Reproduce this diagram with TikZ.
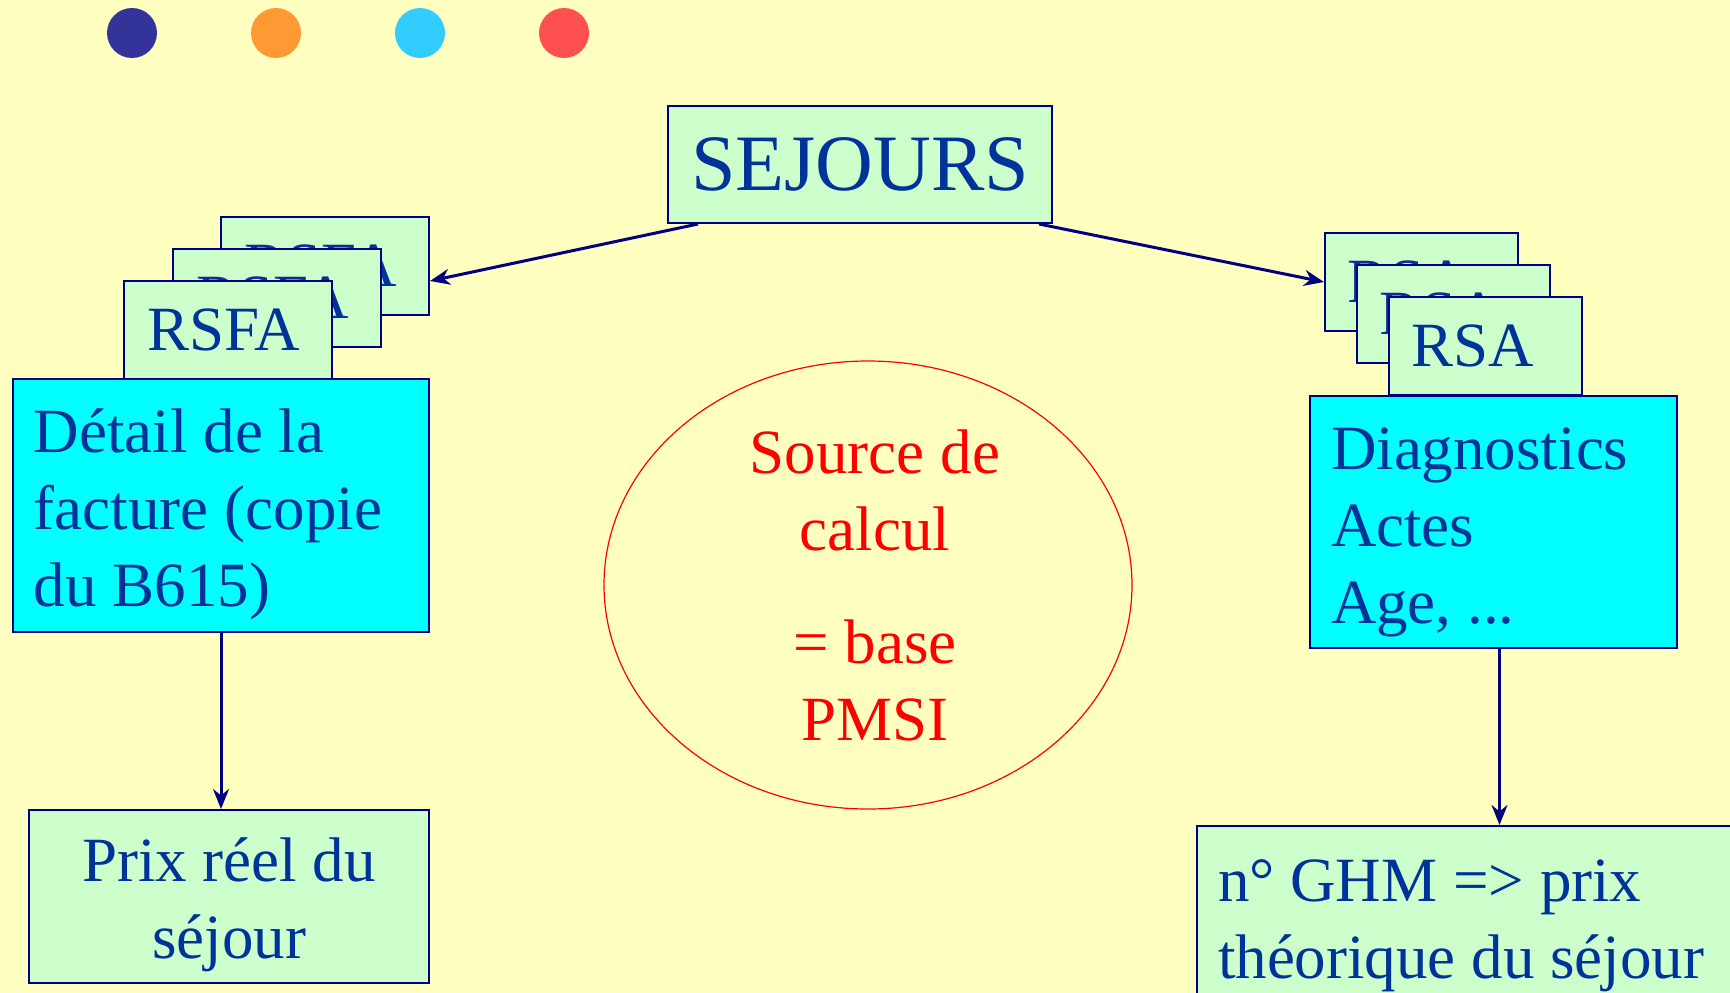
\documentclass[tikz,border=0pt]{standalone}
\usepackage{fontspec}
\setmainfont{Liberation Serif}
\usetikzlibrary{shapes.geometric,arrows.meta}
\definecolor{fond}{HTML}{FFFFC0}
\definecolor{vert}{HTML}{CCFFCC}
\definecolor{bleuciel}{HTML}{00FFFF}
\definecolor{encre}{HTML}{003399}
\definecolor{marine}{HTML}{000080}
\definecolor{pastille1}{HTML}{333399}
\definecolor{pastille2}{HTML}{FF9933}
\definecolor{pastille3}{HTML}{33CCFF}
\definecolor{pastille4}{HTML}{FF5050}

\begin{document}
\begin{tikzpicture}[x=1pt,y=-1pt,
  boite/.style={draw=marine,line width=2pt,anchor=north west,text=encre,
    font=\fontsize{63}{77}\selectfont,inner sep=0pt},
  carte/.style={boite,fill=vert,minimum height=98pt},
  fleche/.style={draw=marine,line width=3pt,-{Stealth[length=20pt,width=16pt]}}]
\useasboundingbox (0,0) rectangle (1730,993);
\fill[fond] (0,0) rectangle (1730,993);
\clip (0,0) rectangle (1730,993);
% pastilles du titre
\foreach \c [count=\i] in {pastille1,pastille2,pastille3,pastille4}
	\fill[\c] (132+144*\i-144, 33) circle (25);
\node[boite,fill=vert,minimum width=384pt,minimum height=117pt,
  font=\fontsize{80}{90}\selectfont] (sejours) at (667,105) {SEJOURS};
% piles de fiches
\foreach \n/\x/\y in {3/220/216,2/172/248,1/123/280}
	\node[carte,minimum width=208pt] (rsfa\n) at (\x,\y) {RSFA\hspace*{8pt}};
\foreach \n/\x/\y in {3/1324/232,2/1356/264,1/1388/296}
	\node[carte,minimum width=193pt] (rsa\n) at (\x,\y) {RSA\hspace*{26pt}};
\node[boite,fill=bleuciel,text width=374pt,inner xsep=21pt,minimum height=253pt,
  text height=62pt,align=flush left] (detail) at (12,378)
  {Détail de la\\facture (copie\\du B615)};
\node[boite,fill=bleuciel,text width=325pt,inner xsep=21pt,minimum height=252pt,
  text height=62pt,align=flush left] (diag) at (1309,395)
  {Diagnostics\\Actes\\Age, ...};
\node[boite,fill=vert,text width=380pt,inner xsep=10pt,minimum height=173pt,
  text height=60pt,align=flush center] (prix) at (28,809) {Prix réel du\\séjour};
\node[boite,fill=vert,text width=558pt,inner xsep=21pt,minimum height=200pt,
  align=flush left] (ghm) at (1196,825) {n° GHM => prix\\théorique du séjour};
\node[ellipse,draw=red,line width=1.2pt,text=red,minimum width=528pt,
  minimum height=448pt,inner sep=0pt,align=center,
  font=\fontsize{63}{77}\selectfont] (source) at (868,585)
  {\hspace*{14pt}Source de\\\hspace*{14pt}calcul\\[36pt]\hspace*{14pt}= base\\\hspace*{14pt}PMSI};
% fleches
\draw[fleche] ([xshift=31pt]sejours.south west) -- ([yshift=-15pt]rsfa3.east);
\draw[fleche] ([xshift=-14pt]sejours.south east) -- (rsa3.west);
\draw[fleche] (detail.south) -- (detail.south |- prix.north);
\draw[fleche] ([xshift=6pt]diag.south) -- ([xshift=6pt]diag.south |- ghm.north);
\end{tikzpicture}
\end{document}
